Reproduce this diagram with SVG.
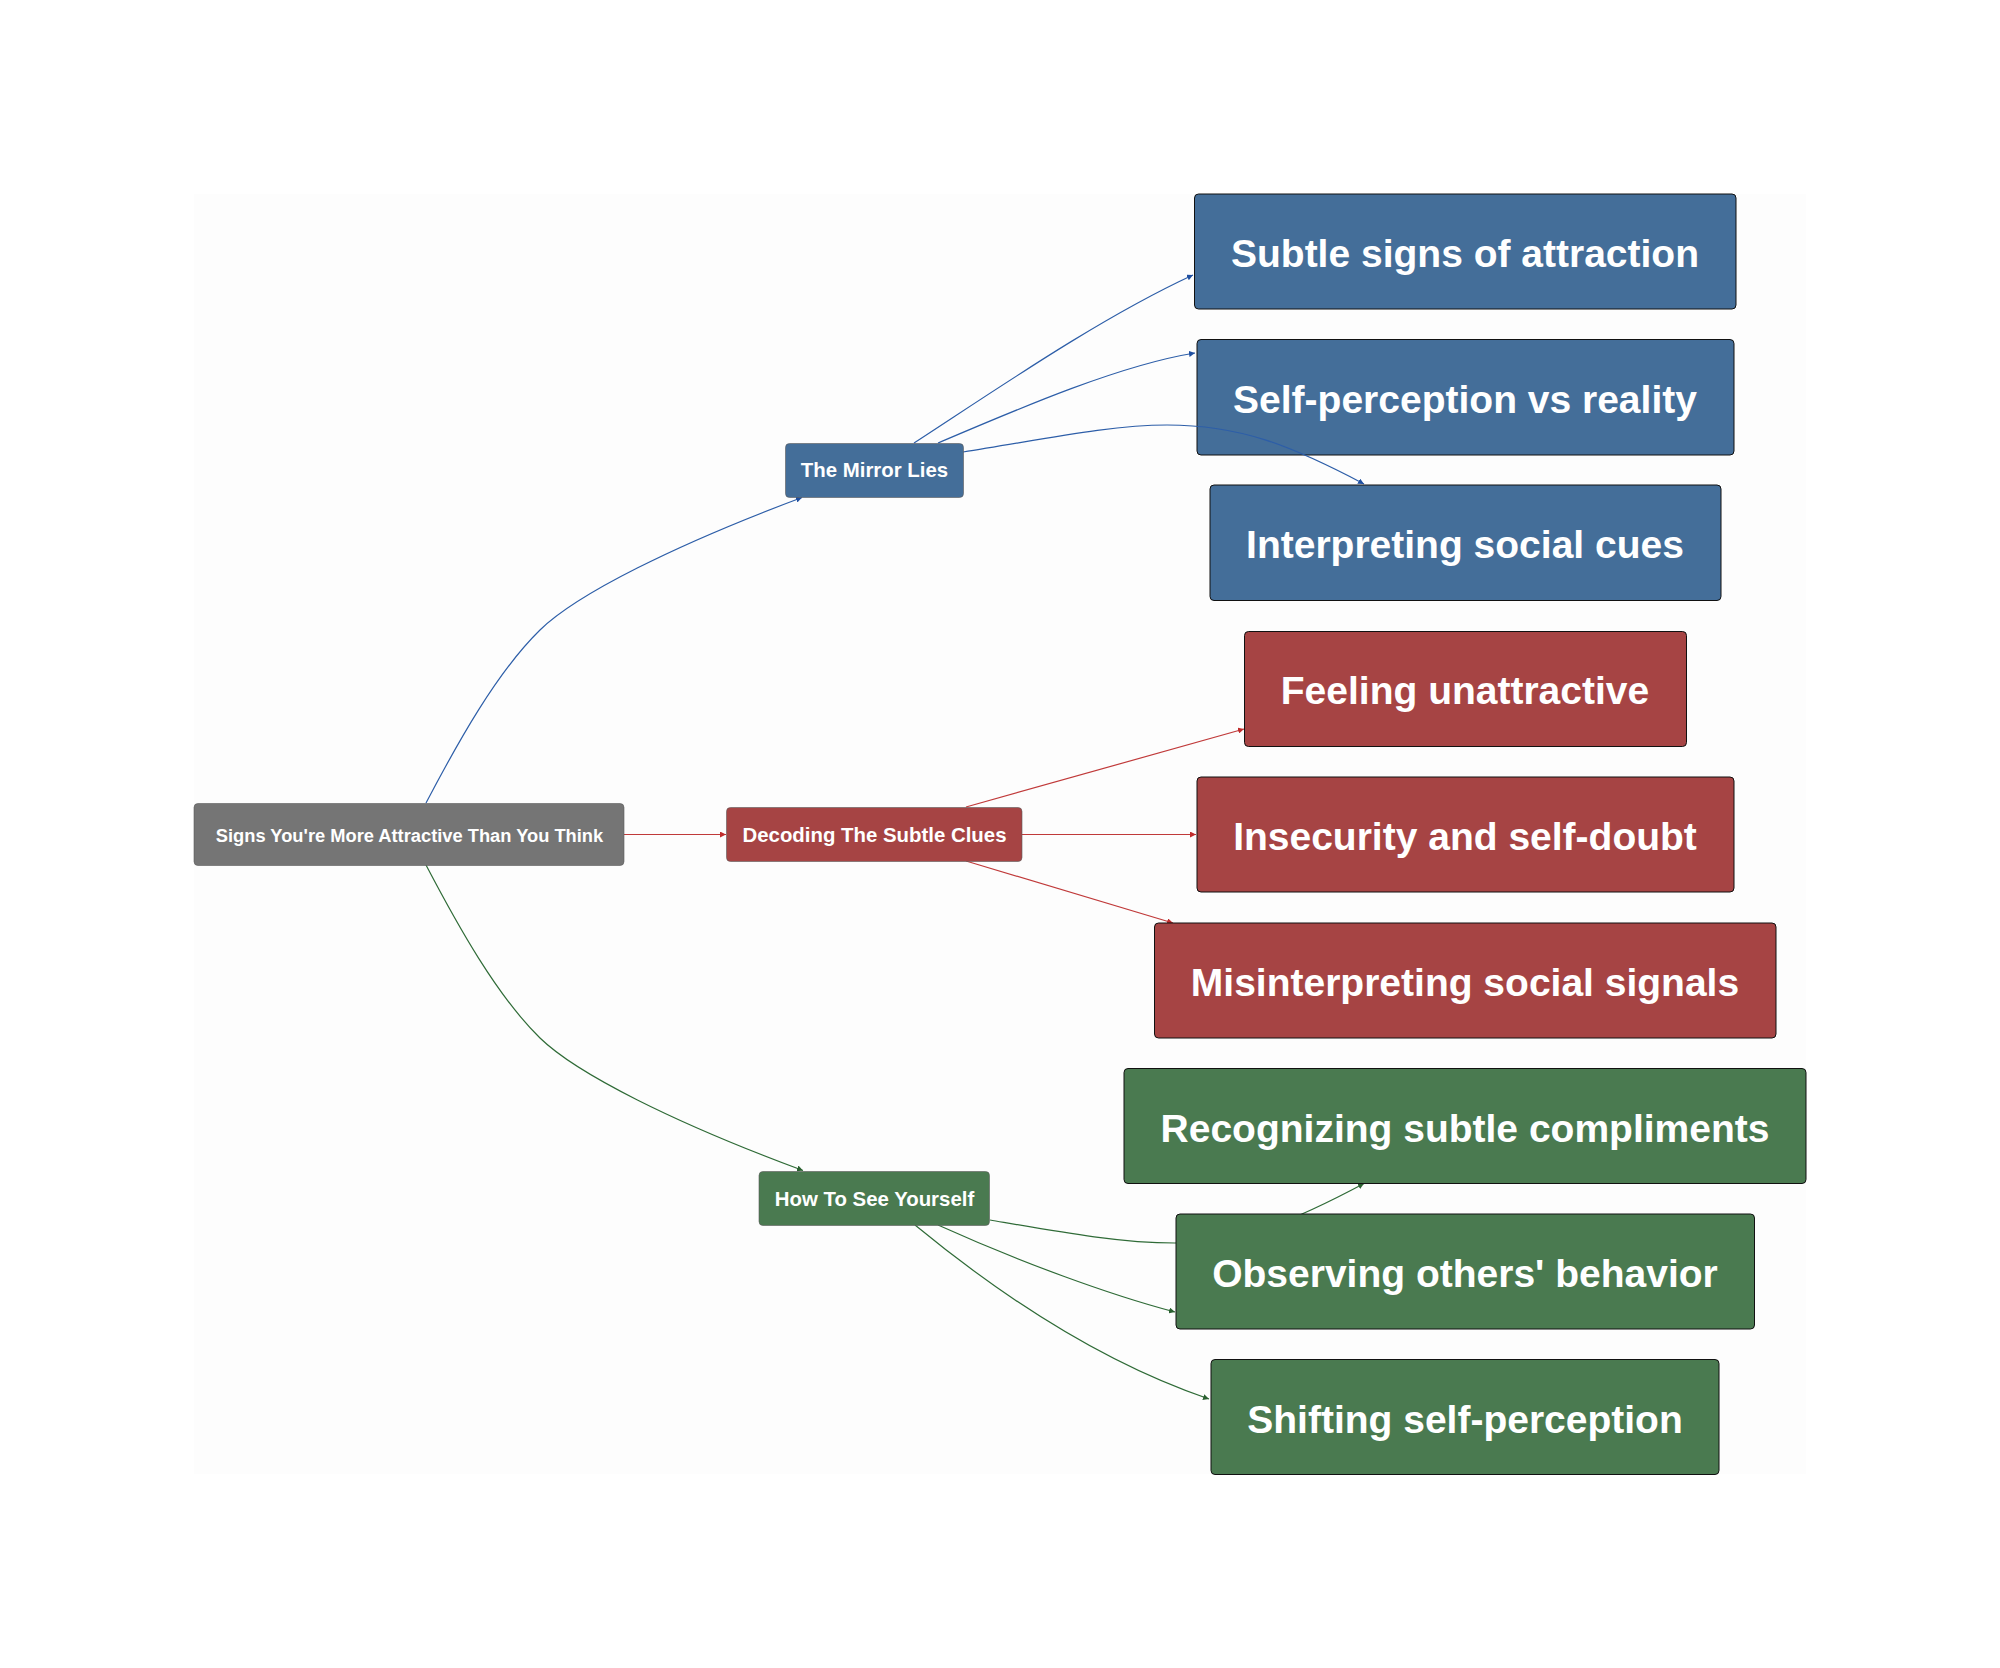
<svg xmlns="http://www.w3.org/2000/svg" width="2000" height="1668" viewBox="0 0 2000 1668">
<style>
.n rect{stroke-width:1}
.sm rect{stroke:#5c5c5c;stroke-opacity:.6}
.lg rect{stroke:#111}
text{font-family:"Liberation Sans",Arial,sans-serif;font-weight:700;fill:#fff;text-anchor:middle;dominant-baseline:central}
.sm text{font-size:20.4px}
.k text{font-size:18.3px}
.lg text{font-size:39px}
.b rect{fill:#446e99}.r rect{fill:#a64444}.g rect{fill:#4a7a50}.k rect{fill:#757575}
.e path{fill:none;stroke-width:1.2}
.eb path{stroke:#2d5ea8;marker-end:url(#ab)}
.er path{stroke:#c03a3a;marker-end:url(#ar)}
.eg path{stroke:#2f6b37;marker-end:url(#ag)}
</style>
<defs>
<marker id="ab" markerUnits="userSpaceOnUse" markerWidth="7" markerHeight="6" refX="6" refY="3" orient="auto"><path d="M0,0L6,3L0,6Z" fill="#1f4fa0"/></marker>
<marker id="ar" markerUnits="userSpaceOnUse" markerWidth="7" markerHeight="6" refX="6" refY="3" orient="auto"><path d="M0,0L6,3L0,6Z" fill="#c02c2c"/></marker>
<marker id="ag" markerUnits="userSpaceOnUse" markerWidth="7" markerHeight="6" refX="6" refY="3" orient="auto"><path d="M0,0L6,3L0,6Z" fill="#2a6030"/></marker>
</defs>
<rect width="2000" height="1668" fill="#fff"/>
<rect x="194" y="194" width="1612" height="1280" fill="#fdfdfd"/>
<g id="n-self" class="n lg b"><rect x="1197" y="339.5" width="537" height="115.5" rx="4"/><text x="1465" y="399">Self-perception vs reality</text></g>
<g id="connectors" class="e">
<g class="eb">
<path d="M426,803C458,742 497,672 540,630C577,594 675,545 802,497.5"/>
<path d="M914,443C1000,387 1100,318 1193,275"/>
<path d="M938,443C1020,408 1120,365 1195,353"/>
<path d="M963,452C1040,440 1110,425 1167,425C1240,425 1290,445 1364,484"/>
</g>
<g class="er">
<path d="M624,834.5H726"/>
<path d="M966,807L1244,729"/>
<path d="M1022,834.5H1196"/>
<path d="M966,861L1173,923"/>
</g>
<g class="eg">
<path d="M426,865C458,926 497,996 540,1038C577,1074 675,1123 803,1170.5"/>
<path d="M990,1220C1060,1232 1120,1243 1175,1243C1240,1243 1290,1223 1364,1183.5"/>
<path d="M938,1225C1020,1262 1110,1295 1175,1312"/>
<path d="M915,1225C1000,1295 1100,1362 1209,1399"/>
</g>
</g>
<g id="n-root" class="n sm k"><rect x="194" y="803.5" width="430" height="62" rx="4"/><text x="409.5" y="835">Signs You're More Attractive Than You Think</text></g>
<g id="n-mirror" class="n sm b"><rect x="785.5" y="443.5" width="178" height="54" rx="4"/><text x="874.5" y="470">The Mirror Lies</text></g>
<g id="n-decoding" class="n sm r"><rect x="726.5" y="807.5" width="295.5" height="54" rx="4"/><text x="874.5" y="835">Decoding The Subtle Clues</text></g>
<g id="n-howto" class="n sm g"><rect x="759" y="1171.5" width="230.5" height="54" rx="4"/><text x="874.5" y="1199">How To See Yourself</text></g>
<g id="n-subtle" class="n lg b"><rect x="1194.5" y="194" width="541.5" height="115" rx="4"/><text x="1465" y="253">Subtle signs of attraction</text></g>
<g id="n-interpreting" class="n lg b"><rect x="1210" y="485" width="511" height="115.5" rx="4"/><text x="1465" y="544.5">Interpreting social cues</text></g>
<g id="n-feeling" class="n lg r"><rect x="1244.5" y="631.5" width="442" height="115" rx="4"/><text x="1465" y="690.5">Feeling unattractive</text></g>
<g id="n-insecurity" class="n lg r"><rect x="1197" y="777" width="537" height="115" rx="4"/><text x="1465" y="836.5">Insecurity and self-doubt</text></g>
<g id="n-misinterpreting" class="n lg r"><rect x="1154.5" y="923" width="621.5" height="115" rx="4"/><text x="1465" y="982">Misinterpreting social signals</text></g>
<g id="n-recognizing" class="n lg g"><rect x="1124" y="1068.5" width="682" height="115" rx="4"/><text x="1465" y="1128">Recognizing subtle compliments</text></g>
<g id="n-observing" class="n lg g"><rect x="1176" y="1214" width="578.5" height="115" rx="4"/><text x="1465" y="1273.5">Observing others' behavior</text></g>
<g id="n-shifting" class="n lg g"><rect x="1211" y="1359.5" width="508" height="115" rx="4"/><text x="1465" y="1419">Shifting self-perception</text></g>
</svg>
